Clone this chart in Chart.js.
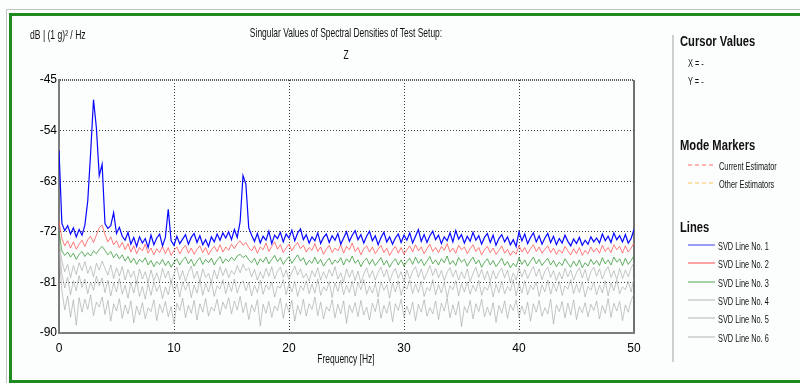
<!DOCTYPE html>
<html>
<head>
<meta charset="utf-8">
<script src="https://cdn.jsdelivr.net/npm/chart.js@4/dist/chart.umd.min.js"></script>
<style>
    body { margin: 0; background: #ffffff; }
    #wrap { position: relative; width: 800px; height: 383px; overflow: hidden; background: #fcfdfd; }
    #chart { position: absolute; left: 0; top: 0; }
    .t { position: absolute; white-space: nowrap; line-height: 1; color: #111;
         font-family: "Liberation Sans", Arial, sans-serif; }
    .small { font-size: 11px; transform: translateY(-50%) scaleX(0.67); transform-origin: left center; }
    .unit { font-size: 13px; transform: translateY(-50%) scaleX(0.66); transform-origin: left center; }
    .head { font-size: 14px; font-weight: bold; transform: translateY(-50%) scaleX(0.8); transform-origin: left center; }
    .mid { font-size: 13px; transform: translate(-50%, -50%) scaleX(0.65); transform-origin: center center; }
    .key { position: absolute; left: 688px; width: 27px; height: 2px; }
</style>
</head>
<body>
<div id="wrap">
    <!-- outer frame -->
    <div style="position:absolute;left:6px;top:9px;width:800px;height:1px;background:#c4c4c4"></div>
    <div style="position:absolute;left:6px;top:9px;width:1px;height:380px;background:#c4c4c4"></div>
    <div style="position:absolute;left:9px;top:13px;width:800px;height:364px;border:3px solid #1f8a1f;border-right:none"></div>

    <canvas id="chart" width="800" height="383"></canvas>

    <div class="t unit" style="left:30px;top:34px">dB | (1 g)² / Hz</div>
    <div class="t mid" style="left:346px;top:32px">Singular Values of Spectral Densities of Test Setup:</div>
    <div class="t mid" style="left:346px;top:54px">Z</div>
    <div class="t mid" style="left:346px;top:358px">Frequency [Hz]</div>

    <!-- side panel -->
    <div style="position:absolute;left:672px;top:35px;width:2px;height:327px;background:#cfcfcf"></div>
    <div class="t head" style="left:680px;top:41px">Cursor Values</div>
    <div class="t small" style="left:688px;top:63px">X = -</div>
    <div class="t small" style="left:688px;top:81px">Y = -</div>

    <div class="t head" style="left:680px;top:145px">Mode Markers</div>
    <div class="key" style="top:164px;background:repeating-linear-gradient(to right,#ffb4b4 0 4px,transparent 4px 7px)"></div>
    <div class="t small" style="left:719px;top:166px">Current Estimator</div>
    <div class="key" style="top:182px;background:repeating-linear-gradient(to right,#ffe0a8 0 4px,transparent 4px 7px)"></div>
    <div class="t small" style="left:719px;top:184px">Other Estimators</div>

    <div class="t head" style="left:680px;top:227px">Lines</div>
    <div id="keys"></div>
</div>

<script>
// frequency axis: 0 .. 50 Hz, one value every 0.25 Hz
const FREQ_STEP = 0.25;
const xTicks = [0, 10, 20, 30, 40, 50];
const yTicks = [-90, -81, -72, -63, -54, -45];

const lineNames = ["SVD Line No. 1", "SVD Line No. 2", "SVD Line No. 3", "SVD Line No. 4", "SVD Line No. 5", "SVD Line No. 6"];

const svd1 = [
    -57.5,-70.5,-71.8,-70.9,-72.4,-71.3,-72.9,-71.6,-72.6,-70.8,
    -66.5,-58.0,-48.5,-53.5,-62.0,-60.0,-70.6,-71.4,-70.9,-68.6,
    -72.3,-71.2,-72.8,-73.5,-72.1,-74.2,-73.0,-74.6,-72.9,-74.0,
    -73.2,-74.8,-72.6,-74.3,-73.1,-72.4,-74.5,-73.0,-68.0,-73.6,
    -74.4,-72.8,-74.1,-73.3,-72.5,-74.2,-73.0,-72.3,-73.9,-72.7,
    -74.3,-73.4,-74.6,-72.9,-73.8,-72.4,-73.5,-72.2,-73.1,-72.0,
    -73.4,-71.6,-73.0,-70.2,-62.0,-63.5,-71.3,-72.6,-73.7,-72.3,
    -74.0,-72.8,-73.5,-71.9,-74.1,-72.6,-73.2,-72.1,-73.8,-72.4,
    -73.1,-71.7,-73.6,-72.2,-71.5,-73.4,-72.5,-74.0,-72.9,-73.6,
    -72.2,-74.1,-73.0,-72.4,-73.9,-72.7,-73.5,-72.3,-74.2,-73.1,
    -72.0,-73.7,-72.6,-71.8,-73.4,-72.5,-74.0,-72.8,-71.9,-73.6,
    -72.7,-74.3,-73.0,-72.1,-73.8,-72.9,-74.2,-73.1,-72.4,-73.9,
    -72.6,-73.5,-72.2,-74.0,-72.8,-71.6,-73.7,-72.5,-73.9,-72.7,
    -71.9,-73.4,-72.6,-74.1,-72.9,-73.6,-72.2,-73.8,-71.8,-73.3,
    -72.5,-74.0,-72.8,-73.7,-72.1,-73.5,-72.7,-74.2,-73.0,-72.3,
    -73.9,-72.6,-74.4,-73.2,-72.5,-73.8,-72.9,-74.3,-73.4,-74.6,
    -72.0,-73.6,-72.4,-74.1,-73.0,-72.2,-73.8,-72.7,-74.2,-73.1,
    -72.3,-73.9,-72.8,-74.3,-73.2,-74.0,-72.6,-73.7,-74.5,-73.3,
    -74.1,-73.0,-74.4,-73.5,-74.2,-72.9,-73.8,-73.1,-74.0,-72.4,
    -73.6,-72.8,-73.9,-72.2,-73.4,-72.7,-73.8,-72.5,-74.0,-73.2,
    -71.6
];

const svd2 = [
    -70.0,-73.2,-74.5,-73.6,-74.9,-73.8,-75.1,-74.2,-73.5,-74.6,
    -73.4,-72.8,-73.9,-72.6,-71.3,-70.8,-72.5,-73.8,-72.9,-74.3,
    -73.6,-74.8,-73.9,-75.2,-74.1,-75.6,-74.5,-75.9,-74.8,-75.4,
    -74.2,-75.8,-74.9,-76.1,-75.0,-75.7,-74.6,-75.9,-74.8,-76.2,
    -75.3,-74.7,-75.9,-75.0,-74.4,-75.8,-74.9,-76.0,-75.1,-74.5,
    -75.7,-74.8,-76.1,-75.2,-74.6,-75.5,-74.3,-75.6,-74.7,-75.3,
    -74.2,-75.0,-74.1,-73.6,-74.4,-73.9,-74.8,-75.4,-74.5,-75.8,
    -74.7,-75.2,-74.0,-75.5,-74.6,-73.8,-75.1,-74.3,-75.7,-74.9,
    -74.2,-75.4,-74.5,-73.9,-75.0,-74.4,-75.6,-74.8,-75.3,-74.1,
    -75.5,-74.7,-76.0,-75.1,-74.4,-75.7,-74.9,-75.4,-74.3,-75.8,
    -74.6,-75.2,-74.0,-75.5,-74.8,-76.1,-75.0,-74.5,-75.6,-74.7,
    -75.9,-75.1,-74.4,-75.7,-74.9,-76.2,-75.3,-74.6,-75.8,-74.8,
    -76.0,-75.2,-74.5,-75.6,-74.3,-75.4,-74.7,-75.9,-75.0,-74.2,
    -75.5,-74.8,-75.7,-74.6,-75.3,-74.1,-75.6,-74.9,-75.8,-74.4,
    -75.2,-74.7,-75.9,-75.0,-74.3,-75.5,-74.8,-76.1,-75.2,-74.6,
    -75.7,-74.9,-76.0,-75.3,-74.5,-75.8,-75.1,-76.2,-75.4,-76.0,
    -74.4,-75.6,-74.8,-75.9,-75.0,-74.3,-75.5,-74.7,-75.8,-75.1,
    -74.5,-75.7,-74.9,-76.0,-75.2,-75.8,-74.6,-75.4,-76.1,-75.0,
    -75.9,-74.8,-76.2,-75.3,-75.9,-74.7,-75.6,-74.9,-75.8,-74.4,
    -75.5,-74.8,-75.7,-74.3,-75.2,-74.6,-75.8,-74.5,-75.6,-74.9,
    -74.0
];

const svd3 = [
    -72.0,-75.4,-76.2,-75.6,-76.5,-75.8,-76.9,-76.0,-75.5,-76.4,
    -75.7,-76.3,-75.4,-75.9,-75.1,-74.6,-75.3,-76.1,-75.5,-76.6,
    -75.9,-76.8,-76.1,-77.2,-76.4,-77.5,-76.7,-77.8,-76.9,-77.4,
    -76.6,-77.9,-77.1,-78.2,-77.3,-77.8,-76.9,-78.0,-77.2,-78.3,
    -77.4,-76.8,-77.9,-77.0,-76.5,-77.7,-76.9,-78.1,-77.2,-76.6,
    -77.8,-76.9,-77.5,-76.7,-77.9,-77.0,-76.4,-77.6,-76.8,-77.3,
    -76.5,-77.1,-76.3,-76.0,-76.6,-76.2,-77.0,-77.5,-76.7,-77.9,
    -76.8,-77.4,-76.5,-77.7,-76.9,-76.2,-77.3,-76.6,-77.8,-77.0,
    -76.4,-77.6,-76.8,-76.1,-77.2,-76.6,-77.9,-77.1,-77.6,-76.5,
    -77.7,-76.9,-78.1,-77.3,-76.7,-77.8,-77.0,-77.5,-76.6,-77.9,
    -76.8,-77.4,-76.3,-77.6,-77.0,-78.2,-77.2,-76.7,-77.8,-76.9,
    -78.0,-77.3,-76.6,-77.9,-77.1,-78.3,-77.4,-76.8,-77.9,-77.0,
    -78.1,-77.3,-76.7,-77.8,-76.5,-77.6,-76.9,-78.0,-77.2,-76.4,
    -77.7,-77.0,-77.9,-76.8,-77.5,-76.3,-77.8,-77.1,-78.0,-76.6,
    -77.4,-76.9,-78.1,-77.2,-76.5,-77.7,-77.0,-78.3,-77.4,-76.8,
    -77.9,-77.1,-78.2,-77.5,-76.7,-78.0,-77.3,-78.4,-77.6,-78.2,
    -76.6,-77.8,-77.0,-78.1,-77.2,-76.5,-77.7,-76.9,-78.0,-77.3,
    -76.7,-77.9,-77.1,-78.2,-77.4,-78.0,-76.8,-77.6,-78.3,-77.2,
    -78.1,-77.0,-78.4,-77.5,-78.1,-76.9,-77.8,-77.1,-78.0,-76.6,
    -77.7,-77.0,-77.9,-76.5,-77.4,-76.8,-78.0,-76.7,-77.8,-77.1,
    -76.2
];

const svd4 = [
    -73.5,-77.2,-79.1,-77.8,-80.2,-78.0,-79.6,-77.5,-78.9,-77.3,
    -79.4,-78.1,-80.0,-77.6,-78.8,-77.2,-78.5,-79.7,-77.9,-80.3,
    -78.4,-79.9,-78.2,-80.6,-78.7,-80.1,-79.0,-81.2,-78.6,-80.4,
    -79.1,-81.0,-78.8,-80.7,-79.3,-80.9,-78.5,-80.2,-79.0,-81.1,
    -79.4,-78.3,-80.5,-78.9,-80.8,-79.2,-78.1,-80.3,-79.0,-80.9,
    -78.6,-80.1,-79.4,-81.0,-78.8,-80.4,-78.2,-79.8,-78.5,-80.2,
    -78.9,-79.6,-78.0,-79.3,-77.8,-78.9,-78.4,-80.0,-78.7,-80.6,
    -79.1,-80.3,-78.5,-79.9,-78.2,-80.4,-79.0,-78.3,-80.1,-78.8,
    -80.5,-79.2,-78.1,-79.7,-78.6,-80.2,-79.4,-80.8,-78.9,-80.0,
    -78.4,-80.6,-79.1,-80.3,-78.7,-79.9,-78.2,-80.4,-79.3,-80.9,
    -78.6,-80.1,-78.8,-80.7,-79.0,-81.1,-79.5,-78.4,-80.2,-78.9,
    -80.6,-79.2,-78.3,-80.0,-78.7,-80.8,-79.4,-78.5,-80.3,-79.1,
    -80.9,-78.8,-80.4,-79.0,-78.2,-80.1,-78.6,-80.5,-79.3,-78.0,
    -79.8,-78.5,-80.2,-78.9,-80.7,-79.2,-78.4,-80.0,-78.8,-80.6,
    -79.1,-80.3,-78.6,-80.9,-79.4,-78.3,-80.1,-78.7,-80.5,-79.0,
    -80.8,-78.9,-80.4,-79.2,-78.5,-80.2,-78.8,-81.0,-79.3,-80.6,
    -78.4,-80.0,-78.7,-80.3,-79.1,-78.2,-79.9,-78.6,-80.5,-79.0,
    -78.3,-80.1,-78.9,-80.7,-79.2,-80.4,-78.5,-80.0,-78.8,-80.6,
    -79.3,-78.4,-80.2,-78.7,-80.8,-79.1,-78.3,-79.9,-78.6,-80.4,
    -79.0,-78.2,-80.1,-78.9,-80.5,-78.5,-80.3,-78.8,-80.0,-78.4,
    -77.5
];

const svd5 = [
    -74.5,-79.5,-82.0,-80.1,-83.2,-80.7,-82.5,-79.8,-81.9,-80.4,
    -83.0,-80.9,-82.4,-79.9,-81.6,-80.2,-82.8,-80.6,-83.4,-81.1,
    -82.7,-80.3,-83.1,-81.5,-83.8,-81.0,-82.9,-80.8,-83.5,-81.7,
    -84.0,-81.2,-83.3,-80.9,-82.6,-81.4,-83.9,-81.8,-83.2,-80.7,
    -82.8,-81.3,-83.6,-80.9,-82.4,-81.0,-83.7,-81.5,-82.9,-80.6,
    -83.3,-81.2,-82.7,-80.8,-83.5,-81.6,-82.2,-80.5,-83.0,-81.1,
    -82.6,-80.4,-82.9,-81.3,-80.7,-82.5,-81.0,-83.4,-81.5,-82.8,
    -80.6,-83.1,-81.4,-82.3,-80.9,-83.6,-81.7,-82.0,-80.5,-83.2,
    -81.2,-82.7,-80.8,-83.5,-81.6,-82.4,-80.7,-83.0,-81.3,-82.9,
    -80.4,-83.3,-81.8,-82.5,-80.9,-83.7,-81.1,-82.6,-80.6,-83.2,
    -81.5,-82.8,-80.8,-83.4,-81.0,-82.3,-80.5,-83.1,-81.7,-82.9,
    -81.2,-83.6,-80.9,-82.4,-81.4,-83.8,-81.1,-82.7,-80.7,-83.3,
    -81.6,-82.2,-80.6,-83.0,-81.3,-82.8,-80.8,-83.5,-81.9,-82.5,
    -80.5,-83.2,-81.4,-82.9,-81.0,-83.7,-81.6,-82.3,-80.7,-83.4,
    -81.2,-82.7,-80.9,-83.1,-81.5,-82.6,-80.6,-83.3,-81.8,-82.4,
    -81.0,-83.6,-81.3,-82.8,-80.8,-83.0,-81.7,-82.5,-80.5,-83.4,
    -81.1,-82.9,-80.7,-83.2,-81.5,-82.3,-80.9,-83.5,-81.4,-82.7,
    -80.6,-83.1,-81.2,-82.6,-80.8,-83.3,-81.6,-82.2,-80.5,-83.0,
    -81.3,-82.8,-80.9,-83.6,-81.7,-82.4,-81.0,-83.2,-81.5,-82.9,
    -80.7,-83.4,-81.1,-82.5,-80.6,-83.0,-81.8,-82.3,-80.8,-82.7,
    -80.2
];

const svd6 = [
    -75.5,-82.5,-85.9,-83.4,-87.2,-84.1,-88.6,-83.7,-86.3,-84.0,
    -85.8,-83.2,-86.9,-84.5,-85.4,-83.6,-86.7,-84.2,-87.9,-84.8,
    -86.1,-83.9,-87.4,-85.0,-86.6,-84.3,-88.2,-85.2,-86.8,-84.6,
    -87.5,-85.5,-86.2,-84.1,-87.8,-84.9,-86.4,-84.4,-87.1,-85.3,
    -88.4,-84.7,-86.0,-83.8,-87.3,-85.1,-86.5,-84.2,-87.7,-84.8,
    -86.3,-83.9,-87.0,-85.4,-86.1,-84.0,-86.8,-84.5,-85.7,-83.7,
    -86.6,-84.3,-85.9,-83.5,-86.4,-84.6,-87.6,-85.0,-86.2,-84.1,
    -88.7,-84.9,-86.5,-84.4,-87.2,-85.2,-86.0,-83.8,-87.4,-84.7,
    -86.3,-84.2,-87.9,-85.1,-86.7,-84.0,-87.0,-84.8,-85.8,-83.6,
    -86.9,-84.5,-87.5,-85.3,-86.1,-84.1,-87.3,-84.9,-86.6,-84.3,
    -88.3,-85.0,-86.4,-84.6,-87.1,-84.2,-86.8,-85.4,-87.7,-84.7,
    -86.2,-83.9,-87.4,-85.1,-86.5,-84.4,-88.0,-84.8,-86.0,-84.0,
    -87.2,-85.2,-86.7,-84.5,-87.8,-84.9,-86.3,-84.1,-87.0,-85.5,
    -86.6,-84.3,-87.6,-84.7,-86.1,-83.8,-87.3,-85.0,-86.8,-84.4,
    -88.9,-85.3,-86.4,-84.2,-87.5,-84.8,-86.2,-84.0,-87.1,-85.4,
    -86.9,-84.6,-88.1,-85.1,-86.5,-84.3,-87.4,-84.9,-86.0,-84.1,
    -87.2,-85.2,-86.7,-84.5,-87.9,-84.8,-86.3,-84.2,-87.0,-85.5,
    -86.6,-84.0,-88.4,-85.0,-86.2,-84.4,-87.3,-84.7,-86.8,-84.1,
    -87.6,-85.3,-86.4,-84.6,-87.1,-84.9,-86.0,-84.3,-87.5,-85.1,
    -86.5,-83.9,-87.2,-84.7,-86.1,-84.4,-87.8,-85.0,-86.3,-84.2,
    -83.0
];

const allLines = [svd1, svd2, svd3, svd4, svd5, svd6];
const plotColors = ["#0808ff", "rgba(255,90,90,0.8)", "rgba(50,150,50,0.75)",
                    "rgba(160,160,160,0.6)", "rgba(160,160,160,0.6)", "rgba(160,160,160,0.6)"];
const keyColors = ["#9c9cf5", "#ffa4a4", "#a4d2a4", "#d8d8d8", "#d8d8d8", "#d8d8d8"];

// legend rows in the side panel
const keys = document.getElementById("keys");
lineNames.forEach((name, i) => {
    const y = 246 + i * 18.3;
    const bar = document.createElement("div");
    bar.className = "key";
    bar.style.top = (y - 2) + "px";
    bar.style.background = keyColors[i];
    keys.appendChild(bar);

    const label = document.createElement("div");
    label.className = "t small";
    label.style.left = "718px";
    label.style.top = y + "px";
    label.textContent = name;
    keys.appendChild(label);
});

const tickFont = { family: "'Liberation Sans', Arial, sans-serif", size: 12 };

const datasets = allLines.map((values, i) => ({
    label: lineNames[i],
    data: values.map((v, k) => ({ x: k * FREQ_STEP, y: v })),
    borderColor: plotColors[i],
    borderWidth: i === 0 ? 1.2 : 1,
    pointRadius: 0,
    tension: 0,
    fill: false
}));

new Chart(document.getElementById("chart"), {
    type: "line",
    data: { datasets },
    options: {
        responsive: false,
        animation: false,
        events: [],
        layout: { padding: { left: 0, top: 80, right: 166, bottom: 0 } },
        plugins: { legend: { display: false }, tooltip: { enabled: false } },
        scales: {
            x: {
                type: "linear",
                min: 0,
                max: 50,
                afterBuildTicks: (scale) => { scale.ticks = xTicks.map(v => ({ value: v })); },
                afterFit: (scale) => { scale.height = 50; },
                ticks: { color: "#000", font: tickFont, padding: 8, maxRotation: 0 },
                grid: {
                    drawTicks: false,
                    color: (c) => c.tick && c.tick.value === 50 ? "#707070" : "#3a3a3a",
                    lineWidth: (c) => c.tick && c.tick.value === 50 ? 2 : 1
                },
                border: {
                    color: "#7c7c7c",
                    width: 2,
                    dash: (c) => c.tick && c.tick.value === 50 ? [] : [1, 2]
                }
            },
            y: {
                min: -90,
                max: -45,
                afterBuildTicks: (scale) => { scale.ticks = yTicks.map(v => ({ value: v })); },
                afterFit: (scale) => { scale.width = 59; },
                ticks: { color: "#000", font: tickFont, padding: 2 },
                grid: {
                    drawTicks: false,
                    color: (c) => c.tick && c.tick.value === -45 ? "#5a5a5a" : "#3a3a3a",
                    lineWidth: (c) => c.tick && c.tick.value === -45 ? 2 : 1
                },
                border: {
                    color: "#7c7c7c",
                    width: 2,
                    dash: (c) => c.tick && c.tick.value === -45 ? [1, 1] : [1, 2]
                }
            }
        }
    }
});
</script>
</body>
</html>
